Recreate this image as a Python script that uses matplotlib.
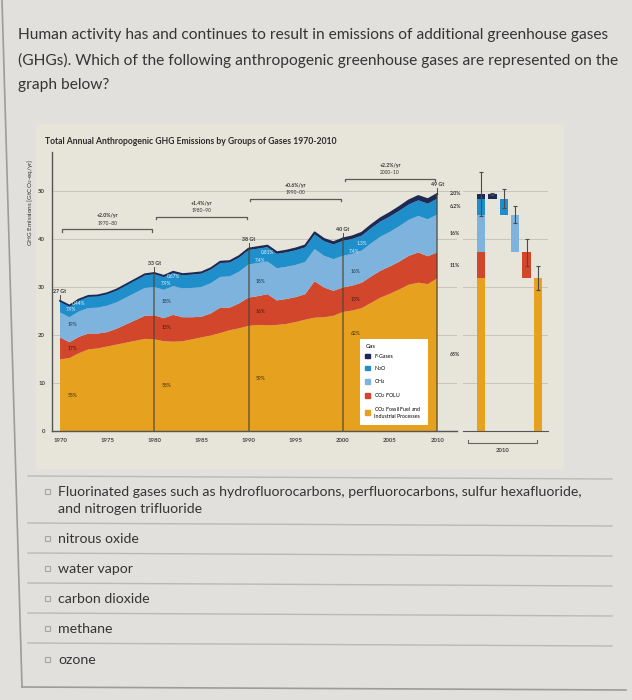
import numpy as np
import matplotlib
matplotlib.use('Agg')
import matplotlib.pyplot as plt
from matplotlib.patches import Rectangle, Patch

plt.rcParams['font.family'] = ['Lato', 'DejaVu Sans']

# ---- data (Gt CO2-eq / yr) ----
years = list(range(1970, 2011))
co2_ffi = [14.9, 15.2, 16.2, 17.0, 17.2, 17.6, 18.0, 18.4, 18.8, 19.2,
           19.1, 18.7, 18.6, 18.7, 19.1, 19.5, 19.9, 20.4, 21.0, 21.4,
           21.9, 22.1, 22.0, 22.1, 22.3, 22.7, 23.2, 23.6, 23.7, 24.0,
           24.8, 25.1, 25.6, 26.7, 27.8, 28.6, 29.5, 30.5, 30.9, 30.6,
           31.8]
co2_folu = [4.6, 3.3, 3.4, 3.3, 3.1, 3.0, 3.3, 3.8, 4.3, 4.8,
            5.0, 4.8, 5.6, 5.0, 4.6, 4.3, 4.6, 5.3, 4.7, 5.2,
            5.9, 6.0, 6.5, 5.1, 5.2, 5.2, 5.3, 7.6, 6.2, 5.2,
            5.1, 5.2, 5.3, 5.5, 5.6, 5.7, 5.8, 6.0, 6.3, 5.8,
            5.4]
ch4 = [5.2, 5.2, 5.3, 5.3, 5.4, 5.5, 5.5, 5.6, 5.7, 5.8,
       5.9, 5.9, 6.0, 6.0, 6.1, 6.2, 6.3, 6.4, 6.5, 6.6,
       6.9, 6.9, 6.8, 6.7, 6.7, 6.7, 6.7, 6.7, 6.6, 6.6,
       6.6, 6.6, 6.7, 6.9, 7.1, 7.2, 7.4, 7.5, 7.6, 7.7,
       7.9]
n2o = [2.3, 2.3, 2.35, 2.4, 2.4, 2.45, 2.5, 2.55, 2.6, 2.65,
       2.7, 2.7, 2.75, 2.75, 2.8, 2.8, 2.85, 2.9, 2.9, 2.95,
       3.0, 3.0, 3.0, 3.0, 3.0, 3.05, 3.05, 3.05, 3.05, 3.05,
       3.1, 3.1, 3.1, 3.15, 3.15, 3.2, 3.2, 3.2, 3.25, 3.25,
       3.3]
f_gases = [0.12, 0.13, 0.14, 0.15, 0.15, 0.16, 0.17, 0.18, 0.19, 0.21,
           0.22, 0.22, 0.23, 0.24, 0.25, 0.26, 0.27, 0.28, 0.29, 0.30,
           0.31, 0.32, 0.33, 0.35, 0.37, 0.39, 0.41, 0.44, 0.46, 0.49,
           0.52, 0.56, 0.60, 0.65, 0.70, 0.76, 0.81, 0.86, 0.91, 0.94,
           0.98]

decade_years = [1970, 1980, 1990, 2000, 2010]
decade_totals = ['27 Gt', '33 Gt', '38 Gt', '40 Gt', '49 Gt']
share_ffi = ['55%', '58%', '59%', '62%', '65%']
share_folu = ['17%', '15%', '16%', '13%', '11%']
share_ch4 = ['19%', '18%', '18%', '16%', '16%']
share_n2o = ['7.9%', '7.9%', '7.4%', '7.4%', '6.2%']
share_f = ['0.44%', '0.67%', '0.81%', '1.3%', '2.0%']

growth_rates = ['+2.0%/yr', '+1.4%/yr', '+0.6%/yr', '+2.2%/yr']
growth_periods = ['1970–80', '1980–90', '1990–00', '2000–10']

# uncertainty whiskers on the 2010 bars: total, F, N2O, CH4, FOLU, FFI
uncert_2010 = [4.6, 0.2, 2.0, 1.7, 2.9, 2.5]

gas_names = ['F-Gases', 'N$_2$O', 'CH$_4$', 'CO$_2$ FOLU',
             'CO$_2$ Fossil Fuel and\nIndustrial Processes']

question = ['Human activity has and continues to result in emissions of additional greenhouse gases',
            '(GHGs). Which of the following anthropogenic greenhouse gases are represented on the',
            'graph below?']
options = ['Fluorinated gases such as hydrofluorocarbons, perfluorocarbons, sulfur hexafluoride,\nand nitrogen trifluoride',
           'nitrous oxide', 'water vapor', 'carbon dioxide', 'methane', 'ozone']

# ---- colours ----
c_ffi = '#e6a11e'
c_folu = '#d2472b'
c_ch4 = '#7db3dd'
c_n2o = '#1f8fcb'
c_f = '#1d2a56'
layer_colors = [c_ffi, c_folu, c_ch4, c_n2o, c_f]
page_bg = '#e1e0dd'
txt = '#353535'

W, H = 632, 700
fig = plt.figure(figsize=(W / 100, H / 100), dpi=100, facecolor=page_bg)

# page layer in pixel coordinates
page = fig.add_axes([0, 0, 1, 1])
page.set_xlim(0, W)
page.set_ylim(H, 0)
page.axis('off')

page.add_patch(Rectangle((36, 124), 528, 345, color='#e7e4da', lw=0))
page.plot([2, 22], [0, 687], color='#9c9c9c', lw=1.2)
page.plot([22, 626], [687, 690], color='#9c9c9c', lw=1.2)

for i, line in enumerate(question):
    page.text(18, 35 + 25 * i, line, fontsize=11.2, color=txt, va='center', ha='left')

# answer list
for y in [476, 523, 553, 583, 613, 643]:
    page.plot([28, 612], [y, y + 3], color='#b9b9b9', lw=1)
opt_y = [492, 539, 569, 599, 629, 660]
for y, o in zip(opt_y, options):
    page.add_patch(Rectangle((45, y - 3), 5, 5, fill=False, ec='#a5a5a5', lw=0.8))
    for n, part in enumerate(o.split('\n')):
        page.text(58, y + 17 * n, part, fontsize=10.2, color=txt, va='center', ha='left')

page.text(45, 142, 'Total Annual Anthropogenic GHG Emissions by Groups of Gases 1970-2010',
          fontsize=6.2, fontweight='bold', color='#2c2c2c', va='center', ha='left')

# ---- main stacked area chart ----
y0_px, ytop_px = 431, 152
ymax = (y0_px - ytop_px) / 4.8
ax = fig.add_axes([52 / W, 1 - y0_px / H, 405 / W, (y0_px - ytop_px) / H])
ax.patch.set_alpha(0)
ax.set_xlim(1969.15, 2012.1)
ax.set_ylim(0, ymax)

layers = np.array([co2_ffi, co2_folu, ch4, n2o, f_gases])
cum = np.cumsum(layers, axis=0)
total = cum[-1]

ax.set_axisbelow(True)
ax.yaxis.grid(True, color='#c9c5ba', lw=0.7)
ax.stackplot(years, layers, colors=layer_colors, lw=0, zorder=2)
ax.plot(years, total, color=c_f, lw=1.3, zorder=3)

for s in ['top', 'right']:
    ax.spines[s].set_visible(False)
for s in ['left', 'bottom']:
    ax.spines[s].set_color('#555555')
    ax.spines[s].set_linewidth(1)
ax.set_xticks(range(1970, 2011, 5))
ax.set_yticks(range(0, 51, 10))
ax.tick_params(length=0, labelsize=4.3, colors='#444444', pad=5)
for lab in ax.get_xticklabels() + ax.get_yticklabels():
    lab.set_fontweight('bold')
ax.text(-0.055, 0.82, 'GHG Emissions [GtCO$_2$-eq/yr]', transform=ax.transAxes,
        rotation=90, fontsize=4.6, color='#333333', ha='center', va='center')

# decade markers, totals and share labels
for k, yr in enumerate(decade_years):
    i = years.index(yr)
    t = total[i]
    if yr > 1970:
        ax.plot([yr, yr], [0, t], color='#4b4434', lw=1.1, alpha=0.75, zorder=4)
    ax.plot([yr, yr], [t + 0.3, t + 1.2], color='#333333', lw=0.6, zorder=4)
    ax.text(yr, t + 1.9, decade_totals[k], fontsize=3.8, fontweight='bold',
            color='#333333', ha='center', va='center', zorder=5)

    bottoms = cum[:, i] - layers[:, i]
    if yr < 2010:
        xl = yr + 1.3
        # 2000 share sits high to keep clear of the legend
        y_ffi = cum[0, i] - 4.5 if yr == 2000 else cum[0, i] / 2
        ax.text(xl, y_ffi, share_ffi[k], fontsize=3.6, color='#3a2a10', ha='center', va='center', zorder=5)
        ax.text(xl, bottoms[1] + layers[1, i] / 2, share_folu[k], fontsize=3.6, color='#3a1a10',
                ha='center', va='center', zorder=5)
        ax.text(xl, bottoms[2] + layers[2, i] / 2, share_ch4[k], fontsize=3.6, color='#1e3550',
                ha='center', va='center', zorder=5)
        ax.text(xl - 0.1, bottoms[3] + layers[3, i] * 0.3, share_n2o[k], fontsize=3.4, color='#e8f4fb',
                ha='center', va='center', zorder=5)
        ax.text(xl + 0.7, bottoms[3] + layers[3, i] * 0.8, share_f[k], fontsize=3.4, color='#e8f4fb',
                ha='center', va='center', zorder=5)
    else:
        xl = 2011.9
        for j, lab in enumerate([share_ffi[k], share_folu[k], share_ch4[k], share_n2o[k], share_f[k]]):
            yy = bottoms[j] + layers[j, i] / 2
            if j == 4:
                yy = bottoms[j] + 1.0
            ax.text(xl, yy, lab, fontsize=3.7, color='#333333', ha='center', va='center',
                    fontweight='bold', zorder=5)

# growth-rate brackets
bracket_y = [42.0, 44.6, 48.4, 52.6]
for k in range(4):
    x1, x2 = decade_years[k], decade_years[k + 1]
    by = bracket_y[k]
    ax.plot([x1 + 0.2, x1 + 0.2, x2 - 0.2, x2 - 0.2], [by - 0.5, by, by, by - 0.5],
            color='#5a5a5a', lw=0.9, zorder=4)
    xm = (x1 + x2) / 2
    ax.text(xm, by + 2.8, growth_rates[k], fontsize=3.7, fontweight='bold', color='#333333',
            ha='center', va='center')
    ax.text(xm, by + 1.3, growth_periods[k], fontsize=3.5, color='#333333',
            ha='center', va='center')

handles = [Patch(color=c) for c in [c_f, c_n2o, c_ch4, c_folu, c_ffi]]
leg = ax.legend(handles, gas_names, title='Gas', loc='lower left',
                bbox_to_anchor=(0.753, 0.011), fontsize=3.8, title_fontsize=4.3,
                frameon=True, fancybox=False, facecolor='white', edgecolor='none',
                framealpha=1, handlelength=0.9, handleheight=0.9, labelspacing=0.9,
                borderpad=1.1, handletextpad=0.8, alignment='left')
leg.set_zorder(6)

# ---- right panel: 2010 breakdown ----
ax2 = fig.add_axes([463 / W, 1 - y0_px / H, 85 / W, (y0_px - ytop_px) / H])
ax2.patch.set_alpha(0)
ax2.set_xlim(-1.58, 5.88)
ax2.set_ylim(0, ymax)
ax2.set_axisbelow(True)
ax2.yaxis.grid(True, color='#c9c5ba', lw=0.7)
for s in ['top', 'right', 'left']:
    ax2.spines[s].set_visible(False)
ax2.spines['bottom'].set_color('#555555')
ax2.set_xticks([])
ax2.set_yticks(range(0, 51, 10))
ax2.tick_params(left=False, labelleft=False)

v2010 = layers[:, -1]
t2010 = total[-1]
bw = 0.75
bottom = 0
for j in range(5):
    ax2.bar(0, v2010[j], bottom=bottom, width=bw, color=layer_colors[j], lw=0, zorder=2)
    bottom += v2010[j]
top = t2010
tops = [t2010]
for pos, j in enumerate([4, 3, 2, 1, 0], start=1):
    ax2.bar(pos, v2010[j], bottom=top - v2010[j], width=bw, color=layer_colors[j], lw=0, zorder=2)
    tops.append(top)
    top -= v2010[j]
ax2.errorbar(range(6), tops, yerr=uncert_2010, fmt='none', ecolor='#4a4a4a',
             elinewidth=0.8, capsize=1.5, capthick=0.8, zorder=3)

ax2.plot([-1.14, -1.14, 4.9, 4.9], [-1.9, -2.5, -2.5, -1.9], color='#666666', lw=0.8, clip_on=False)
ax2.text(1.9, -4.0, '2010', fontsize=4.3, fontweight='bold', color='#444444',
         ha='center', va='center', clip_on=False)

fig.savefig('out.png', dpi=100, facecolor=page_bg)
